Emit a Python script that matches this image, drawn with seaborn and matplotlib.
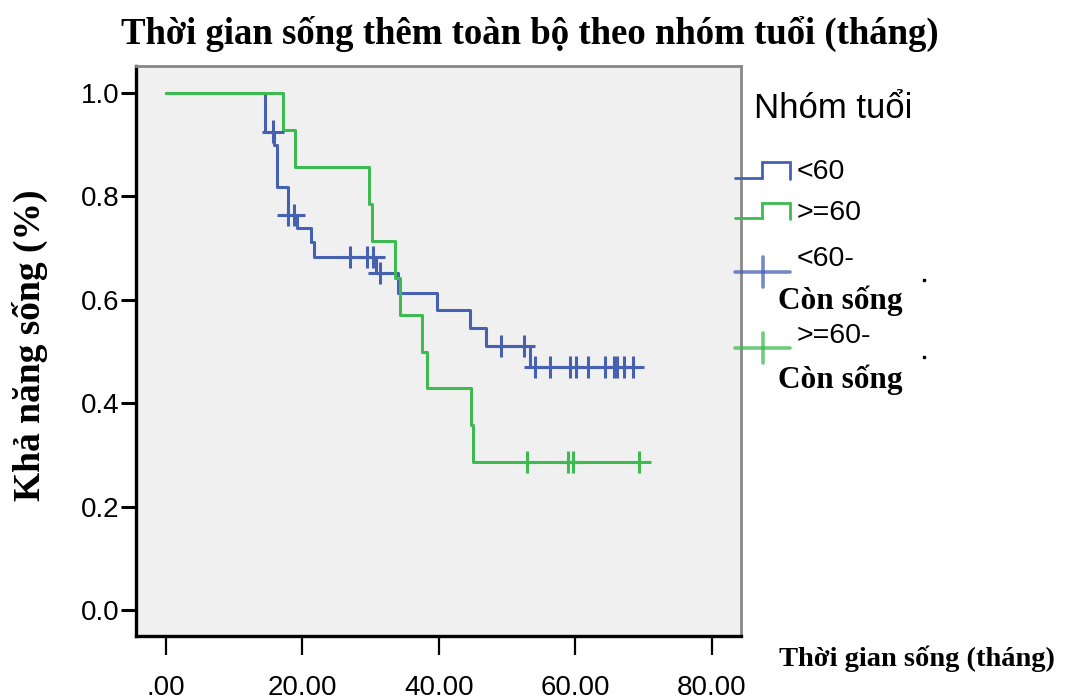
import numpy as np
import pandas as pd
import matplotlib
matplotlib.use("Agg")
import matplotlib.pyplot as plt
import seaborn as sns

# ---------------- data ----------------
groups = ["<60", ">=60"]

blue_time = [0.0, 14.5, 15.9, 16.2, 17.9, 19.2, 21.3, 21.7, 30.8, 34.0, 39.7, 44.6, 46.9, 53.4]
blue_surv = [1.0, 0.925, 0.899, 0.818, 0.764, 0.739, 0.712, 0.683, 0.652, 0.613, 0.580, 0.545, 0.511, 0.470]
blue_end = 68.5
blue_cens_time = [15.7, 17.9, 18.8, 27.0, 29.5, 30.4, 31.3, 49.1, 52.5, 54.1, 56.3,
                  59.2, 60.1, 61.9, 64.4, 65.7, 66.1, 67.2, 68.5]

green_time = [0.0, 17.2, 18.9, 29.8, 30.2, 33.6, 34.3, 37.5, 38.3, 44.7, 45.0]
green_surv = [1.0, 0.929, 0.857, 0.786, 0.714, 0.643, 0.571, 0.500, 0.429, 0.357, 0.286]
green_end = 69.4
green_cens_time = [52.9, 59.0, 59.6, 69.4]

x_ticks = [0, 20, 40, 60, 80]
x_tick_labels = [".00", "20.00", "40.00", "60.00", "80.00"]
y_ticks = [0.0, 0.2, 0.4, 0.6, 0.8, 1.0]
y_tick_labels = ["0.0", "0.2", "0.4", "0.6", "0.8", "1.0"]

title = "Thời gian sống thêm toàn bộ theo nhóm tuổi (tháng)"
x_label = "Thời gian sống (tháng)"
y_label = "Khả năng sống (%)"
legend_title = "Nhóm tuổi"
legend_labels = ["<60", ">=60", "<60-", ">=60-"]
legend_sub = "Còn sống"

BLUE = "#4660B2"
GREEN = "#3DBB52"
palette = {"<60": BLUE, ">=60": GREEN}


def step_value(times, survs, t):
    idx = np.searchsorted(np.asarray(times), t, side="right") - 1
    return survs[idx]


# curve table
rows = []
for g, tt, ss, end in [("<60", blue_time, blue_surv, blue_end),
                       (">=60", green_time, green_surv, green_end)]:
    for t, s in zip(tt, ss):
        rows.append((g, t, s))
    rows.append((g, end, ss[-1]))
curves = pd.DataFrame(rows, columns=["group", "time", "surv"])

crow = []
for g, ct, tt, ss in [("<60", blue_cens_time, blue_time, blue_surv),
                      (">=60", green_cens_time, green_time, green_surv)]:
    for t in ct:
        crow.append((g, t, step_value(tt, ss, t)))
cens = pd.DataFrame(crow, columns=["group", "time", "surv"])

# ---------------- figure ----------------
sns.set_style("white")
plt.rcParams["font.family"] = ["Liberation Sans", "DejaVu Sans"]
plt.rcParams["text.color"] = "black"
plt.rcParams["axes.labelcolor"] = "black"
plt.rcParams["xtick.color"] = "black"
plt.rcParams["ytick.color"] = "black"

W, H = 1070, 700
fig = plt.figure(figsize=(W / 100, H / 100), dpi=100)
L, R, T, B = 136, 741, 66, 636
ax = fig.add_axes([L / W, 1 - B / H, (R - L) / W, (B - T) / H])
ax.set_facecolor("#F0F0F0")

sns.lineplot(data=curves, x="time", y="surv", hue="group", palette=palette,
             estimator=None, sort=False, drawstyle="steps-post", linewidth=2.2,
             legend=False, ax=ax)
sns.scatterplot(data=cens, x="time", y="surv", hue="group", palette=palette,
                marker="+", s=260, linewidth=2.2, legend=False, ax=ax, zorder=3)

ax.set_xlim(-4.4, 84.3)
ax.set_ylim(-0.05, 1.052)
ax.set_xticks(x_ticks)
ax.set_xticklabels(x_tick_labels)
ax.set_yticks(y_ticks)
ax.set_yticklabels(y_tick_labels)
ax.tick_params(axis="x", direction="out", length=14, width=1.6, pad=14,
               labelsize=20, colors="black", bottom=True)
ax.tick_params(axis="y", direction="out", length=11, width=2.2, pad=1,
               labelsize=20, colors="black", left=True)
ax.set_xlabel("")
ax.set_ylabel("")

for side in ["left", "bottom"]:
    ax.spines[side].set_color("black")
    ax.spines[side].set_linewidth(2.4)
for side in ["top", "right"]:
    ax.spines[side].set_color("#888888")
    ax.spines[side].set_linewidth(2.0)

serif_bold = dict(family=["Liberation Serif", "DejaVu Serif"], weight="bold", color="black")

fig.text(530 / W, 1 - 34 / H, title, ha="center", va="center", fontsize=26.5, **serif_bold)
fig.text(30 / W, 1 - 345 / H, y_label, ha="center", va="center", rotation=90,
         fontsize=27, **serif_bold)
fig.text(779 / W, 1 - 659 / H, x_label, ha="left", va="center", fontsize=20.5, **serif_bold)

# ---------------- legend (drawn in pixel space) ----------------
lg = fig.add_axes([0, 0, 1, 1], facecolor="none")
lg.set_xlim(0, W)
lg.set_ylim(H, 0)
lg.axis("off")

lg.text(754, 108, legend_title, ha="left", va="center", fontsize=25, color="black")

for col, ylow, yhigh, lab in [(BLUE, 178, 162, legend_labels[0]),
                              (GREEN, 218, 203, legend_labels[1])]:
    lg.plot([735, 762, 762, 790, 790], [ylow, ylow, yhigh, yhigh, ylow + 1],
            color=col, lw=2.0, solid_joinstyle="miter")
    lg.text(797, (ylow + yhigh) / 2 + 2, lab, ha="left", va="center", fontsize=20.5,
            color="black")

for col, yc, ytxt, ysub, lab in [(BLUE, 272, 259, 301, legend_labels[2]),
                                 (GREEN, 348, 336, 380, legend_labels[3])]:
    lg.plot([735, 790], [yc, yc], color=col, lw=2.6, alpha=0.75)
    lg.plot([763, 763], [yc - 15, yc + 15], color=col, lw=2.6, alpha=0.75)
    lg.text(797, ytxt, lab, ha="left", va="center", fontsize=20.5, color="black")
    lg.text(778, ysub, legend_sub, ha="left", va="center", fontsize=22.5, **serif_bold)

lg.plot([924, 924], [280, 357], ls="none", marker="s", ms=2, color="black")

fig.savefig("out.png", dpi=100)
